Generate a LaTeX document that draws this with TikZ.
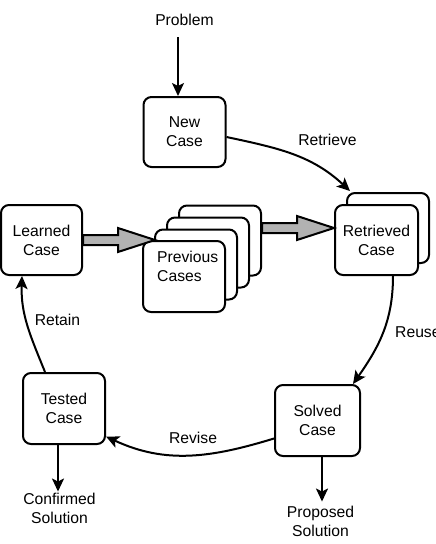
\documentclass[tikz,border=0pt]{standalone}
\usepackage{fontspec}
\setmainfont{Liberation Sans}
\usetikzlibrary{arrows.meta,calc}

\tikzset{
  every node/.style={font=\fontsize{15.7}{19}\selectfont, inner sep=0pt},
  casebox/.style={draw, line width=2pt, rounded corners=8pt, fill=white,
    minimum width=82pt, minimum height=70pt, align=center},
  flow/.style={line width=2pt, -{Stealth[length=13pt,width=12pt,inset=3pt]}},
  fatarrow/.style={draw=black, fill=black!30, line width=2pt, line join=miter},
  lbl/.style={anchor=base},
}

% horizontal block arrow from #1 to the tip #2
\newcommand{\blockarrow}[2]{%
  \path[fatarrow] let \p1=(#1), \p2=(#2) in
    (\x1,\y2+5pt) -- (\x2-37pt,\y2+5pt) -- (\x2-37pt,\y2+12pt) -- (\x2,\y2)
    -- (\x2-37pt,\y2-12pt) -- (\x2-37pt,\y2-5pt) -- (\x1,\y2-5pt) -- cycle;}

\begin{document}
\begin{tikzpicture}[x=1pt,y=1pt]
\useasboundingbox (0,0) rectangle (436,-544);

% cases
\node[casebox] (newcase) at (184.5,-132) {New\\Case};
\node[casebox, minimum width=81pt] (learned) at (41.5,-240) {Learned\\Case};

\node[casebox] (prev4) at (220,-240.5) {};
\node[casebox] (prev3) at (208,-252.5) {};
\node[casebox] (prev2) at (196,-264.5) {};
\node[casebox, minimum height=71pt] (prev1) at (184,-276.5) {};
\node[anchor=north west, align=left] (prevlabel) at (157,-251) {Previous\\Cases};

\node[casebox] (retback) at (388,-228) {};
\node[casebox, minimum width=83pt] (retrieved) at (376.5,-240) {Retrieved\\Case};

\node[casebox, minimum width=85pt, minimum height=71pt] (solved) at (317.5,-420.5) {Solved\\Case};
\node[casebox, minimum height=71pt] (tested) at (64,-408.5) {Tested\\Case};

% inputs and outputs
\node[lbl] (problem) at (184.5,-25) {Problem};
\node[align=center] (proposed) at (320.5,-521) {Proposed\\Solution};
\node[align=center] (confirmed) at (59.5,-508) {Confirmed\\Solution};

\coordinate (tip1) at (155,-240);

% block arrows between the case stores
\blockarrow{learned.east}{tip1}
\blockarrow{prev4.east |- retback.center}{retrieved.west |- retback.center}

% cycle
\draw[flow] ([xshift=-6.5pt,yshift=-12pt]problem.base) -- ([xshift=-6.5pt]newcase.north);
\draw[flow] ([yshift=-5pt]newcase.east) to[out=-12,in=137]
  ([xshift=4pt,yshift=1pt]retback.north west);
\draw[flow] ([xshift=16.5pt]retrieved.south) to[out=-90,in=55]
  ([xshift=-8pt]solved.north east);
\draw[flow] ([yshift=-18pt]solved.west) to[out=197,in=-25]
  ([yshift=-28pt]tested.east);
\draw[flow] ([xshift=-19pt]tested.north) to[out=112,in=-92]
  ([xshift=-19.5pt]learned.south);
\draw[flow] ([xshift=4.5pt]solved.south) -- ([xshift=1.5pt,yshift=4pt]proposed.north);
\draw[flow] ([xshift=-6pt]tested.south) -- ([xshift=-1.5pt,yshift=1pt]confirmed.north);

% step labels
\node[lbl] (lretrieve) at (327.5,-145) {Retrieve};
\node[anchor=base west] (lreuse) at (395,-337) {Reuse};
\node[lbl] (lrevise) at (193,-443) {Revise};
\node[lbl] (lretain) at (57.5,-325) {Retain};
\end{tikzpicture}
\end{document}
